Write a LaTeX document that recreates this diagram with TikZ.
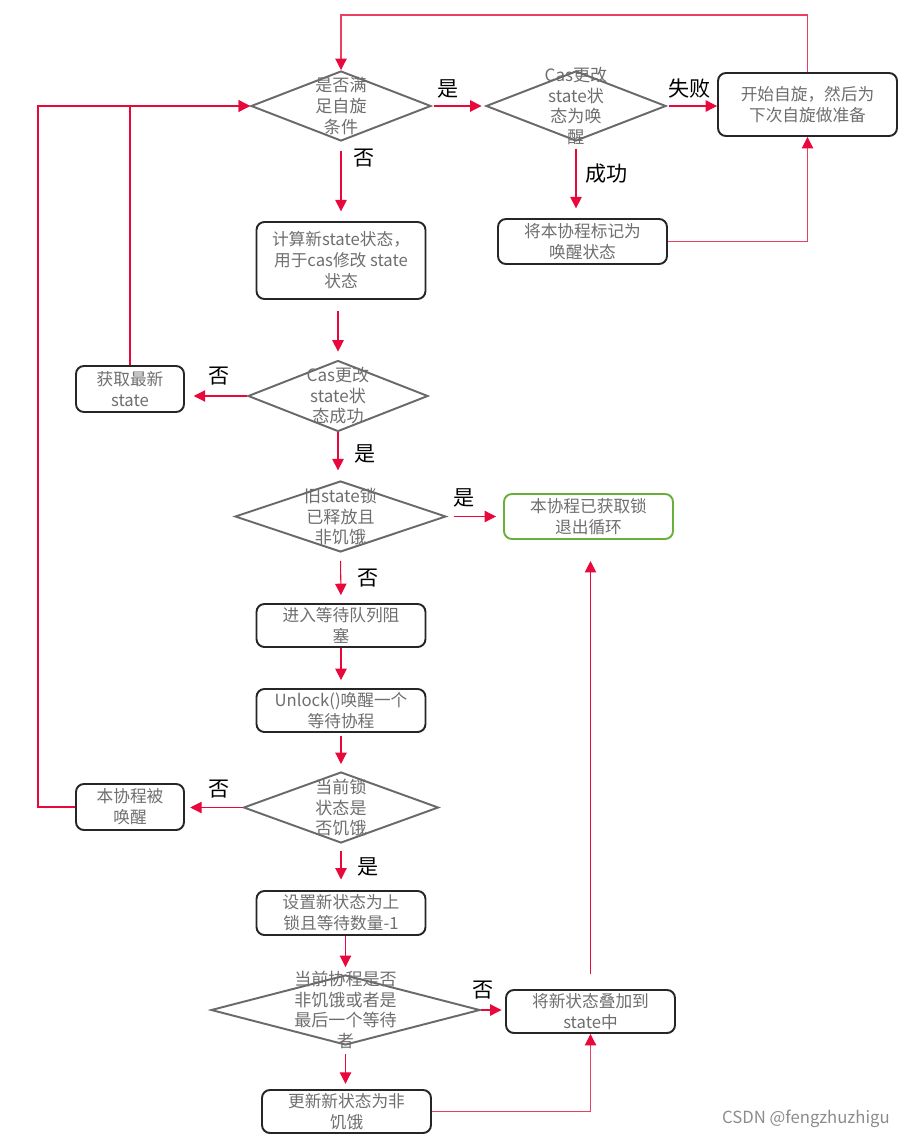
\documentclass[tikz,border=0pt]{standalone}
\usepackage{fontspec}
\usepackage{xcolor}
\usetikzlibrary{shapes.geometric,arrows.meta}
\newfontfamily\cjk{Noto Sans CJK SC}
\definecolor{flowred}{RGB}{232,8,60}
\definecolor{flowpink}{RGB}{234,62,98}
\definecolor{diagray}{RGB}{105,105,105}
\definecolor{txtgray}{RGB}{110,110,110}
\definecolor{boxline}{RGB}{38,38,38}
\definecolor{okgreen}{RGB}{104,176,58}

\begin{document}
\begin{tikzpicture}[x=0.02cm,y=-0.02cm,
    box/.style={draw=boxline,line width=1.1pt,rounded corners=4.5pt,inner sep=1pt,
        align=center,text=txtgray,font=\cjk\fontsize{9.5}{12}\selectfont},
    decision/.style={diamond,draw=diagray,line width=1.1pt,inner sep=0pt},
    dtext/.style={align=center,text=txtgray,inner sep=0pt,font=\cjk\fontsize{9.7}{11.7}\selectfont},
    flow/.style={draw=flowred,line width=0.6pt,-{Triangle[length=6.5pt,width=6.5pt,color=flowred]}},
    lbl/.style={text=black,inner sep=1pt,font=\cjk\fontsize{12}{14}\selectfont}]
    \useasboundingbox (0,0) rectangle (905,1138);

    % Spin check
    \node[decision,minimum width=3.6cm,minimum height=1.4cm] (d1) at (341,106) {};
    \node[dtext] (d1t) at (d1) {是否满\\足自旋\\条件};
    \node[decision,minimum width=3.6cm,minimum height=1.4cm] (d2) at (576,106) {};
    \node[dtext] (d2t) at (d2) {Cas更改\\state状\\态为唤\\醒};
    \node[box,minimum width=3.58cm,minimum height=1.26cm] (b1) at (807.5,104.5) {开始自旋，然后为\\下次自旋做准备};
    \node[box,minimum width=3.38cm,minimum height=0.9cm] (b2) at (582.5,241.5) {将本协程标记为\\唤醒状态};

    % New state and CAS
    \node[box,minimum width=3.38cm,minimum height=1.54cm] (b3) at (341,260.5) {计算新state状态，\\用于cas修改 state\\状态};
    \node[decision,minimum width=3.6cm,minimum height=1.42cm] (d3) at (338,396) {};
    \node[dtext] (d3t) at (d3) {Cas更改\\state状\\态成功};
    \node[box,minimum width=2.16cm,minimum height=0.92cm] (b4) at (130,389) {获取最新\\state};

    % Lock released
    \node[decision,minimum width=4.22cm,minimum height=1.42cm] (d4) at (340.5,516.5) {};
    \node[dtext] (d4t) at (d4) {旧state锁\\已释放且\\非饥饿};
    \node[box,draw=okgreen,minimum width=3.38cm,minimum height=0.9cm] (b5) at (588.5,516.5) {本协程已获取锁\\退出循环};

    % Waiting queue
    \node[box,minimum width=3.38cm,minimum height=0.86cm] (b6) at (341,625.5) {进入等待队列阻\\塞};
    \node[box,minimum width=3.38cm,minimum height=0.86cm] (b7) at (341,710.5) {Unlock()唤醒一个\\等待协程};
    \node[decision,minimum width=3.9cm,minimum height=1.42cm] (d5) at (341,807.5) {};
    \node[dtext] (d5t) at (d5) {当前锁\\状态是\\否饥饿};
    \node[box,minimum width=2.16cm,minimum height=0.92cm] (b8) at (130,807) {本协程被\\唤醒};

    % Starving mode
    \node[box,minimum width=3.38cm,minimum height=0.88cm] (b9) at (341,913) {设置新状态为上\\锁且等待数量-1};
    \node[decision,minimum width=5.38cm,minimum height=1.4cm] (d6) at (345.5,1010) {};
    \node[dtext] (d6t) at (d6) {当前协程是否\\非饥饿或者是\\最后一个等待\\者};
    \node[box,minimum width=3.38cm,minimum height=0.86cm] (b10) at (590.5,1011.5) {将新状态叠加到\\state中};
    \node[box,minimum width=3.38cm,minimum height=0.86cm] (b11) at (346.5,1111.5) {更新新状态为非\\饥饿};

    \coordinate (topline) at (0,15);
    \coordinate (leftrail) at (38,0);

    % Connectors
    \draw[flow,draw=flowpink] (b1.north) -- (b1.north |- topline) -| (d1.north);
    \draw[flow,shorten <=1pt,shorten >=2pt] (d1.east) -- node[lbl,above=3pt,pos=0.3] {是} (d2.west);
    \draw[flow,shorten <=1pt] (d2.east) -- node[lbl,above=3pt,pos=0.45] {失败} (d2.east -| b1.west);
    \draw[flow,shorten <=4pt,shorten >=5.5pt] (d2.south) -- node[lbl,right=4pt,pos=0.42] {成功} (d2.south |- b2.north);
    \draw[flow,draw=flowpink] (b2.east) -| (b1.south);
    \draw[flow,shorten <=5pt,shorten >=5.5pt] (d1.south) -- node[lbl,right=6pt,pos=0.2] {否} (d1.south |- b3.north);
    \draw[flow,shorten <=6.5pt,shorten >=4.5pt] (d3.north |- b3.south) -- (d3.north);
    \draw[flow,shorten >=5pt] (d3.west) -- node[lbl,above=5pt,pos=0.45] {否} (d3.west -| b4.east);
    \draw[flow] (b4.north) |- (d1.west);
    \draw[flow,shorten >=5.5pt] (d3.south) -- node[lbl,right=8pt,pos=0.45] {是} (d3.south |- d4.north);
    \draw[flow,shorten <=4pt,shorten >=4pt] (d4.east) -- node[lbl,above=4pt,pos=0.3] {是} (b5.west);
    \draw[flow,shorten <=4.5pt,shorten >=4.5pt] (d4.south) -- node[lbl,right=8pt,pos=0.5] {否} (b6.north);
    \draw[flow,shorten >=4.5pt] (b6.south) -- (b7.north);
    \draw[flow,shorten <=1.5pt,shorten >=4pt] (b7.south) -- (d5.north);
    \draw[flow,shorten >=3pt] (d5.west) -- node[lbl,above=4pt,pos=0.4] {否} (d5.west -| b8.east);
    \draw[flow] (b8.west) -| (leftrail |- d1.west) -- (d1.west);
    \draw[flow,shorten <=4pt,shorten >=6pt] (d5.south) -- node[lbl,right=8pt,pos=0.5] {是} (b9.north);
    \draw[flow,shorten >=4pt] (b9.south -| d6.north) -- (d6.north);
    \draw[flow,shorten >=2pt] (d6.east) -- node[lbl,above=5pt,pos=0.1] {否} (d6.east -| b10.west);
    \draw[flow,shorten <=4.5pt,shorten >=3pt] (d6.south) -- (d6.south |- b11.north);
    \draw[flow,draw=flowpink] (b11.east) -| (b10.south);
    \draw[flow,shorten <=8.5pt,shorten >=12pt] (b10.north) -- (b10.north |- b5.south);

    % Watermark
    \node[anchor=east,text=black!45,inner sep=0pt,font=\cjk\fontsize{9.5}{11}\selectfont] (mark) at (890,1119) {CSDN @fengzhuzhigu};
\end{tikzpicture}
\end{document}
